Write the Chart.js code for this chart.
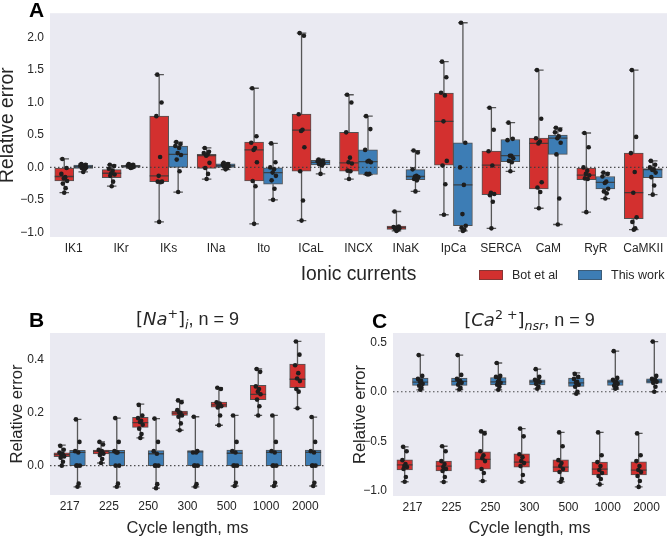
<!DOCTYPE html>
<html><head><meta charset="utf-8">
<script src="https://cdn.jsdelivr.net/npm/chart.js@4.4.0/dist/chart.umd.min.js"></script>
<style>
html,body{margin:0;padding:0;background:#fff;}
body{width:671px;height:539px;position:relative;overflow:hidden;font-family:"Liberation Sans",Arial,sans-serif;color:#262626;}
.pane{position:absolute;}
.pane canvas{display:block;}
.letter{position:absolute;font-weight:bold;font-size:21px;line-height:21px;color:#000;}
.ptitle{position:absolute;text-align:center;font-size:18px;line-height:18px;white-space:nowrap;color:#262626;}
.m{font-family:"DejaVu Sans",sans-serif;}
.ptitle sup,.ptitle sub{font-size:70%;line-height:0;position:relative;vertical-align:baseline;}
.ptitle sup{top:-0.55em;} .ptitle sub{top:0.3em;}
.leg{position:absolute;font-size:12.5px;line-height:13px;color:#262626;white-space:nowrap;}
.sw{position:absolute;width:24px;height:10px;box-sizing:border-box;border:1px solid rgba(60,60,60,0.5);}
</style></head>
<body>
<div class="pane" style="left:0;top:0;width:671px;height:300px"><canvas id="cA" width="671" height="300"></canvas></div>
<div class="pane" style="left:0;top:300px;width:340px;height:239px"><canvas id="cB" width="340" height="239"></canvas></div>
<div class="pane" style="left:340px;top:300px;width:331px;height:239px"><canvas id="cC" width="331" height="239"></canvas></div>

<div class="letter" style="left:29px;top:-1px">A</div>
<div class="letter" style="left:29px;top:309px">B</div>
<div class="letter" style="left:372px;top:310px">C</div>

<div class="ptitle" style="left:50px;width:275px;top:310px"><span class="m">[<i>Na</i><sup>+</sup>]<sub><i>i</i></sub></span>, n = 9</div>
<div class="ptitle" style="left:393px;width:273px;top:311px"><span class="m">[<i>Ca</i><sup>2 +</sup>]<sub><i>nsr</i></sub></span>, n = 9</div>

<div class="sw" id="swRed" style="left:479px;top:270px"></div>
<div class="leg" style="left:512px;top:268.5px">Bot et al</div>
<div class="sw" id="swBlue" style="left:578px;top:270px"></div>
<div class="leg" style="left:611px;top:268.5px">This work</div>

<script>
// ---------------- DATA : panel A ----------------
const CAT_A = ['IK1','IKr','IKs','INa','Ito','ICaL','INCX','INaK','IpCa','SERCA','CaM','RyR','CaMKII'];
const BOT_LO_A  = [-0.39,-0.29,-0.84,-0.18,-0.87,-0.82,-0.18,-0.98,-0.73,-0.94,-0.63,-0.69,-0.96];
const BOT_Q1_A  = [-0.21,-0.16,-0.22,-0.015,-0.21,-0.06,-0.06,-0.955,0.035,-0.42,-0.33,-0.19,-0.79];
const BOT_MED_A = [-0.14,-0.09,-0.13,0.18,0.27,0.575,0.07,-0.93,0.71,0.035,0.37,-0.12,-0.39];
const BOT_Q3_A  = [-0.01,-0.035,0.79,0.20,0.39,0.82,0.54,-0.905,1.145,0.25,0.45,-0.01,0.22];
const BOT_HI_A  = [0.13,0.04,1.43,0.30,1.22,2.07,1.12,-0.68,1.63,0.92,1.50,0.53,1.50];
const BOT_PTS_A = [
  [0.13,-0.01,-0.10,-0.15,-0.17,-0.21,-0.25,-0.32,-0.39],
  [0.04,0.02,-0.02,-0.05,-0.09,-0.11,-0.13,-0.22,-0.29],
  [1.43,1.0,0.79,0.16,-0.13,-0.22,-0.22,-0.23,-0.84],
  [0.30,0.24,0.22,0.20,0.18,0.07,-0.01,-0.10,-0.18],
  [1.22,0.48,0.38,0.30,0.27,0.08,-0.21,-0.29,-0.87],
  [2.07,2.03,0.82,0.58,0.56,0.31,-0.06,-0.51,-0.82],
  [1.12,1.0,0.54,0.15,0.08,0.06,-0.05,-0.06,-0.18],
  [-0.68,-0.91,-0.92,-0.93,-0.93,-0.94,-0.95,-0.96,-0.98],
  [1.63,1.39,1.15,1.11,0.71,0.10,0.03,-0.26,-0.73],
  [0.92,0.58,0.25,0.03,-0.39,-0.41,-0.43,-0.53,-0.94],
  [1.50,0.75,0.45,0.40,0.37,-0.23,-0.31,-0.38,-0.63],
  [0.53,0.31,0.0,-0.05,-0.10,-0.12,-0.17,-0.18,-0.69],
  [1.50,0.47,0.22,-0.07,-0.39,-0.77,-0.84,-0.94,-0.96]
];
const THIS_LO_A  = [-0.07,-0.01,-0.38,-0.035,-0.50,-0.10,-0.11,-0.37,-0.98,-0.06,-0.88,-0.48,-0.42];
const THIS_Q1_A  = [-0.015,0.0,0.0,0.0,-0.26,0.04,-0.11,-0.19,-0.90,0.09,0.20,-0.33,-0.16];
const THIS_MED_A = [0.01,0.015,0.20,0.025,-0.08,0.076,0.09,-0.14,-0.27,0.18,0.45,-0.23,-0.035];
const THIS_Q3_A  = [0.035,0.03,0.33,0.055,-0.005,0.107,0.27,-0.035,0.38,0.43,0.50,-0.14,-0.02];
const THIS_HI_A  = [0.056,0.05,0.39,0.075,0.37,0.127,0.79,0.26,2.23,0.69,0.61,-0.08,0.10];
const THIS_PTS_A = [
  [0.05,0.04,0.03,0.02,0.01,0.0,-0.01,-0.03,-0.07],
  [0.05,0.04,0.03,0.03,0.02,0.01,0.01,0.0,-0.01],
  [0.39,0.36,0.33,0.30,0.22,0.19,0.12,-0.06,-0.38],
  [0.07,0.05,0.04,0.03,0.02,0.02,0.01,-0.01,-0.03],
  [0.37,0.08,0.0,-0.03,-0.08,-0.13,-0.20,-0.33,-0.50],
  [0.12,0.10,0.09,0.08,0.07,0.06,0.05,0.03,-0.10],
  [0.79,0.59,0.27,0.10,0.09,0.08,-0.10,-0.10,-0.11],
  [0.26,0.23,-0.03,-0.13,-0.14,-0.15,-0.18,-0.20,-0.37],
  [2.23,0.38,0.0,-0.27,-0.72,-0.90,-0.93,-0.96,-0.98],
  [0.69,0.44,0.42,0.18,0.18,0.14,0.10,0.08,-0.06],
  [0.61,0.58,0.54,0.48,0.45,0.38,0.20,-0.48,-0.88],
  [-0.08,-0.10,-0.14,-0.22,-0.24,-0.33,-0.37,-0.40,-0.48],
  [0.10,0.04,0.0,-0.03,-0.04,-0.08,-0.15,-0.28,-0.42]
];
const Y_TICKS_A = [-1.0,-0.5,0.0,0.5,1.0,1.5,2.0];

// ---------------- DATA : panel B ([Na+]i) ----------------
const CYCLE = ['217','225','250','300','500','1000','2000'];
const BOT_LO_B  = [0.0,0.01,0.105,0.134,0.153,0.19,0.217];
const BOT_Q1_B  = [0.034,0.044,0.145,0.19,0.221,0.25,0.295];
const BOT_MED_B = [0.042,0.054,0.163,0.199,0.23,0.27,0.327];
const BOT_Q3_B  = [0.049,0.059,0.183,0.207,0.241,0.304,0.384];
const BOT_HI_B  = [0.078,0.09,0.233,0.247,0.295,0.366,0.47];
const BOT_PTS_B = [
  [0.075,0.06,0.05,0.045,0.04,0.035,0.03,0.015,0.0],
  [0.09,0.08,0.06,0.055,0.05,0.045,0.04,0.025,0.01],
  [0.23,0.19,0.18,0.17,0.165,0.155,0.14,0.12,0.105],
  [0.247,0.24,0.21,0.20,0.20,0.19,0.185,0.16,0.134],
  [0.295,0.29,0.24,0.235,0.23,0.225,0.22,0.19,0.153],
  [0.366,0.355,0.30,0.29,0.28,0.27,0.25,0.225,0.19],
  [0.47,0.42,0.38,0.35,0.33,0.32,0.29,0.28,0.217]
];
const THIS_LO_B  = [-0.08,-0.08,-0.085,-0.08,-0.077,-0.077,-0.077];
const THIS_Q1_B  = [0.0,0.0,0.0,0.0,0.0,0.0,0.0];
const THIS_MED_B = [0.05,0.049,0.045,0.052,0.047,0.05,0.05];
const THIS_Q3_B  = [0.058,0.058,0.057,0.057,0.059,0.059,0.059];
const THIS_HI_B  = [0.175,0.18,0.178,0.185,0.19,0.19,0.184];
const THIS_PTS_B = [
  [0.175,0.09,0.055,0.05,0.0,0.0,0.0,-0.068,-0.08],
  [0.18,0.09,0.055,0.05,0.05,0.0,0.0,-0.068,-0.08],
  [0.178,0.09,0.055,0.045,0.0,0.0,0.0,-0.07,-0.085],
  [0.185,0.055,0.05,0.05,0.0,0.0,0.0,-0.07,-0.08],
  [0.19,0.09,0.055,0.05,0.0,0.0,0.0,-0.065,-0.077],
  [0.19,0.09,0.055,0.05,0.0,0.0,0.0,-0.065,-0.077],
  [0.184,0.09,0.055,0.05,0.0,0.0,0.0,-0.065,-0.077]
];
const Y_TICKS_B = [0.0,0.2,0.4];

// ---------------- DATA : panel C ([Ca2+]nsr) ----------------
const BOT_LO_C  = [-0.908,-0.91,-0.90,-0.908,-0.908,-0.935,-0.96];
const BOT_Q1_C  = [-0.79,-0.80,-0.78,-0.76,-0.81,-0.84,-0.84];
const BOT_MED_C = [-0.737,-0.75,-0.683,-0.71,-0.76,-0.78,-0.79];
const BOT_Q3_C  = [-0.687,-0.70,-0.606,-0.626,-0.687,-0.71,-0.707];
const BOT_HI_C  = [-0.556,-0.55,-0.40,-0.372,-0.41,-0.41,-0.42];
const BOT_PTS_C = [
  [-0.556,-0.60,-0.69,-0.73,-0.75,-0.76,-0.78,-0.86,-0.908],
  [-0.55,-0.60,-0.70,-0.73,-0.76,-0.78,-0.80,-0.86,-0.91],
  [-0.40,-0.42,-0.60,-0.64,-0.67,-0.70,-0.78,-0.82,-0.90],
  [-0.372,-0.45,-0.63,-0.66,-0.70,-0.72,-0.75,-0.84,-0.908],
  [-0.41,-0.55,-0.69,-0.72,-0.75,-0.78,-0.81,-0.88,-0.908],
  [-0.41,-0.64,-0.71,-0.75,-0.79,-0.82,-0.85,-0.88,-0.935],
  [-0.42,-0.64,-0.70,-0.75,-0.79,-0.81,-0.85,-0.90,-0.96]
];
const THIS_LO_C  = [0.02,0.023,0.02,0.03,-0.02,0.027,0.0];
const THIS_Q1_C  = [0.064,0.064,0.07,0.07,0.054,0.064,0.087];
const THIS_MED_C = [0.097,0.104,0.10,0.10,0.09,0.10,0.107];
const THIS_Q3_C  = [0.137,0.137,0.144,0.12,0.137,0.12,0.13];
const THIS_HI_C  = [0.37,0.37,0.29,0.228,0.19,0.41,0.506];
const THIS_PTS_C = [
  [0.37,0.16,0.13,0.11,0.10,0.08,0.06,0.04,0.02],
  [0.37,0.17,0.13,0.11,0.10,0.09,0.07,0.04,0.023],
  [0.29,0.16,0.15,0.13,0.10,0.09,0.07,0.05,0.02],
  [0.228,0.15,0.12,0.11,0.10,0.10,0.08,0.05,0.03],
  [0.18,0.15,0.13,0.10,0.09,0.07,0.05,0.0,-0.02],
  [0.41,0.14,0.12,0.10,0.09,0.08,0.06,0.04,0.03],
  [0.506,0.16,0.13,0.12,0.11,0.10,0.09,0.05,0.0]
];
const Y_TICKS_C = [-1.0,-0.5,0.0,0.5];

// ---------------- STYLE ----------------
const RED = '#d3302f', BLUE = '#3d7db5';
const EDGE = 'rgba(55,55,55,0.85)';
const WHISK = 'rgba(70,70,70,0.9)';
const TXT = '#262626';
const FONT = '"Liberation Sans", Arial, sans-serif';
const BG = '#eaeaf2';
const HALF = 0.2, CAP = 0.1;                 // box half width / cap half width (category units)
const JITTER = [-0.04,0.05,-0.06,0.02,-0.01,0.06,-0.03,0.03,0.0]; // strip-plot horizontal spread

document.getElementById('swRed').style.background = RED;
document.getElementById('swBlue').style.background = BLUE;

const bgPlugin = { id:'bg', beforeDraw(chart){ const {ctx, chartArea:a} = chart; ctx.save(); ctx.fillStyle = BG; ctx.fillRect(a.left, a.top, a.width, a.height); ctx.restore(); } };

function buildHue(lo, q1, med, q3, hi, pts, off){
  const bars = q1.map((v,i)=>({x:i+off, y:[v, q3[i]]}));
  const whisk = [], meds = [], dots = [];
  for (let i=0;i<q1.length;i++){
    const c = i + off;
    whisk.push({x:c,y:lo[i]},{x:c,y:q1[i]},{x:c,y:null},{x:c,y:q3[i]},{x:c,y:hi[i]},{x:c,y:null},
               {x:c-CAP,y:lo[i]},{x:c+CAP,y:lo[i]},{x:c,y:null},{x:c-CAP,y:hi[i]},{x:c+CAP,y:hi[i]},{x:c,y:null});
    meds.push({x:c-HALF,y:med[i]},{x:c+HALF,y:med[i]},{x:c,y:null});
    pts[i].forEach((v,k)=>dots.push({x:c+JITTER[k%JITTER.length], y:v}));
  }
  return {bars, whisk, meds, dots};
}

function fmt(v){ return (v<0?'\u2212':'') + Math.abs(v).toFixed(1); }

function makeChart(id, o){
  const n = o.cats.length;
  const r = buildHue(...o.bot, -HALF);
  const b = buildHue(...o.thisw, HALF);
  const barDs = (label, data, color) => ({type:'bar', label, data, backgroundColor:color, borderColor:EDGE, borderWidth:1, borderSkipped:false, grouped:false, categoryPercentage:1.0, barPercentage:1.0, order:3});
  const lineDs = (data, color, w, order, dash) => ({type:'line', data, borderColor:color, borderWidth:w, pointRadius:0, spanGaps:false, fill:false, order, borderDash:dash||[], tension:0});
  const ptDs = (data) => ({type:'scatter', data, pointRadius:2.3, pointBackgroundColor:'#1e1e1e', pointBorderWidth:0, showLine:false, order:0});
  return new Chart(document.getElementById(id), {
    type:'bar',
    data:{
      datasets:[
        barDs('Bot et al', r.bars, RED), barDs('This work', b.bars, BLUE),
        lineDs(r.whisk, WHISK, 1.3, 4), lineDs(b.whisk, WHISK, 1.3, 4),
        lineDs([{x:-0.5,y:0},{x:n-0.5,y:0}], 'rgba(60,60,60,0.9)', 1.2, 2, [1.5,2.5]),
        lineDs(r.meds, EDGE, 1.3, 1), lineDs(b.meds, EDGE, 1.3, 1),
        ptDs(r.dots), ptDs(b.dots)
      ]
    },
    options:{
      responsive:false, animation:false, events:[],
      layout:{padding:{left:0, right:o.padR, top:o.padT, bottom:o.padB}},
      plugins:{legend:{display:false}, tooltip:{enabled:false}, title:{display:false}},
      scales:{
        x:{type:'linear', position:'bottom', offset:false, bounds:'data', min:-0.5, max:n-0.5,
           grid:{display:false, drawTicks:false}, border:{display:false},
           ticks:{color:TXT, font:{size:12, family:FONT}, padding:4, maxRotation:0, autoSkip:false,
                  callback:(v)=>{ const k = Math.round(v); return (Math.abs(v-k)<1e-6 && o.cats[k]!==undefined) ? o.cats[k] : ''; }},
           afterBuildTicks(s){ s.ticks = o.cats.map((_,i)=>({value:i})); },
           title:{display:true, text:o.xTitle, color:TXT, font:{size:o.titleSize, family:FONT, lineHeight:1}, padding:{top:0, bottom:o.xtPad}},
           afterFit(s){ s.height = o.xH; }},
        y:{type:'linear', position:'left', min:o.yMin, max:o.yMax, bounds:'data',
           grid:{display:false, drawTicks:false}, border:{display:false},
           ticks:{color:TXT, font:{size:12, family:FONT}, padding:6, callback:(v)=>fmt(v)},
           afterBuildTicks(s){ s.ticks = o.yTicks.map(v=>({value:v})); },
           title:{display:true, text:'Relative error', color:TXT, font:{size:o.titleSize, family:FONT, lineHeight:1}, padding:{top:o.ytPad, bottom:0}},
           afterFit(s){ s.width = o.yW; }}
      }
    },
    plugins:[bgPlugin]
  });
}

makeChart('cA', {
  cats:CAT_A,
  bot:[BOT_LO_A,BOT_Q1_A,BOT_MED_A,BOT_Q3_A,BOT_HI_A,BOT_PTS_A],
  thisw:[THIS_LO_A,THIS_Q1_A,THIS_MED_A,THIS_Q3_A,THIS_HI_A,THIS_PTS_A],
  yMin:-1.073, yMax:2.377, yTicks:Y_TICKS_A,
  xTitle:'Ionic currents', titleSize:19.3, xtPad:8, ytPad:-2,
  padR:1, padT:11, padB:8, xH:55, yW:50
});
makeChart('cB', {
  cats:CYCLE,
  bot:[BOT_LO_B,BOT_Q1_B,BOT_MED_B,BOT_Q3_B,BOT_HI_B,BOT_PTS_B],
  thisw:[THIS_LO_B,THIS_Q1_B,THIS_MED_B,THIS_Q3_B,THIS_HI_B,THIS_PTS_B],
  yMin:-0.111, yMax:0.502, yTicks:Y_TICKS_B,
  xTitle:'Cycle length, ms', titleSize:16.5, xtPad:2, ytPad:9,
  padR:15, padT:33, padB:0, xH:44, yW:50
});
makeChart('cC', {
  cats:CYCLE,
  bot:[BOT_LO_C,BOT_Q1_C,BOT_MED_C,BOT_Q3_C,BOT_HI_C,BOT_PTS_C],
  thisw:[THIS_LO_C,THIS_Q1_C,THIS_MED_C,THIS_Q3_C,THIS_HI_C,THIS_PTS_C],
  yMin:-1.052, yMax:0.593, yTicks:Y_TICKS_C,
  xTitle:'Cycle length, ms', titleSize:16.5, xtPad:2, ytPad:12,
  padR:5, padT:33, padB:0, xH:43, yW:53
});
</script>
</body></html>
